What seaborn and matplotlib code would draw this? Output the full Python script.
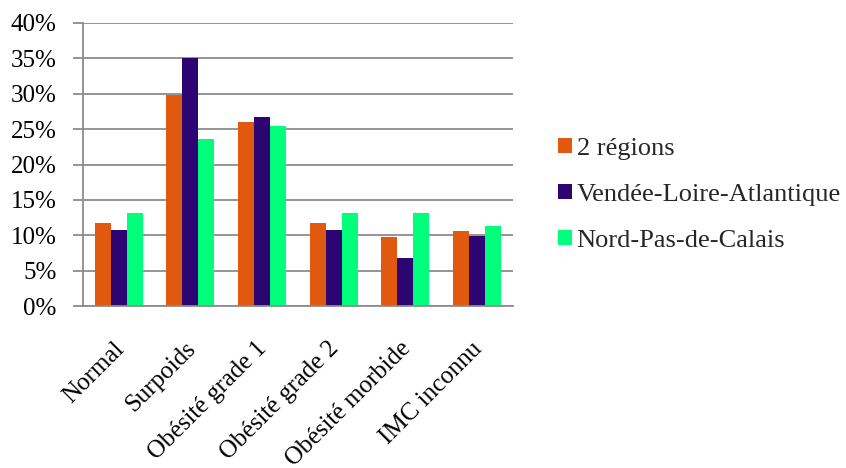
import matplotlib
matplotlib.use("Agg")
import matplotlib.pyplot as plt
import matplotlib.transforms as mtransforms
import seaborn as sns
import pandas as pd
from matplotlib.ticker import PercentFormatter, MultipleLocator

categories = ["Normal", "Surpoids", "Obésité grade 1", "Obésité grade 2",
              "Obésité morbide", "IMC inconnu"]
series_names = ["2 régions", "Vendée-Loire-Atlantique", "Nord-Pas-de-Calais"]
deux_regions = [11.8, 29.8, 26.0, 11.8, 9.7, 10.6]
vendee_loire_atlantique = [10.7, 35.1, 26.7, 10.7, 6.8, 9.9]
nord_pas_de_calais = [13.1, 23.6, 25.4, 13.1, 13.1, 11.3]
colors = ["#E0590F", "#2C0572", "#00FF7A"]

rows = []
for name, vals in zip(series_names, [deux_regions, vendee_loire_atlantique, nord_pas_de_calais]):
    for cat, v in zip(categories, vals):
        rows.append({"categorie": cat, "serie": name, "valeur": v})
df = pd.DataFrame(rows)

sns.set_theme(style="white")
plt.rcParams["font.family"] = ["Liberation Serif", "DejaVu Serif"]

fig = plt.figure(figsize=(8.46, 4.68), dpi=100)
ax = fig.add_axes([0.098, 0.346, 0.508, 0.605])

sns.barplot(data=df, x="categorie", y="valeur", hue="serie", order=categories,
            hue_order=series_names, palette=colors, width=0.67, gap=0,
            saturation=1, edgecolor="none", linewidth=0, ax=ax, legend=True)

ax.set_ylim(0, 40)
ax.set_xlim(-0.5, len(categories) - 0.5)
ax.yaxis.set_major_locator(MultipleLocator(5))
ax.yaxis.set_major_formatter(PercentFormatter(decimals=0))
ax.set_axisbelow(True)
ax.grid(axis="y", color="#8c8c8c", linewidth=1.3)
ax.set_xlabel("")
ax.set_ylabel("")

for side in ["top", "right"]:
    ax.spines[side].set_visible(False)
for side in ["left", "bottom"]:
    ax.spines[side].set_color("#8c8c8c")
    ax.spines[side].set_linewidth(1.3)

ax.tick_params(axis="y", which="major", left=True, length=7, width=1.3,
               color="#8c8c8c", labelsize=18, pad=12, labelcolor="black")
ax.tick_params(axis="x", bottom=False, labelsize=18, pad=6, labelcolor="black")
shift = mtransforms.ScaledTranslation(-0.06, -0.15, fig.dpi_scale_trans)
for lbl in ax.get_xticklabels():
    lbl.set_rotation(45)
    lbl.set_ha("right")
    lbl.set_rotation_mode("anchor")
    lbl.set_transform(lbl.get_transform() + shift)

handles, labels = ax.get_legend_handles_labels()
ax.legend_.remove()
fig.legend(handles, labels, loc="center left", bbox_to_anchor=(0.659, 0.584),
           frameon=False, fontsize=19, handlelength=0.53, handleheight=0.53,
           handletextpad=0.19, labelspacing=0.9, borderaxespad=0, borderpad=0)

fig.savefig("out.png", dpi=100)
